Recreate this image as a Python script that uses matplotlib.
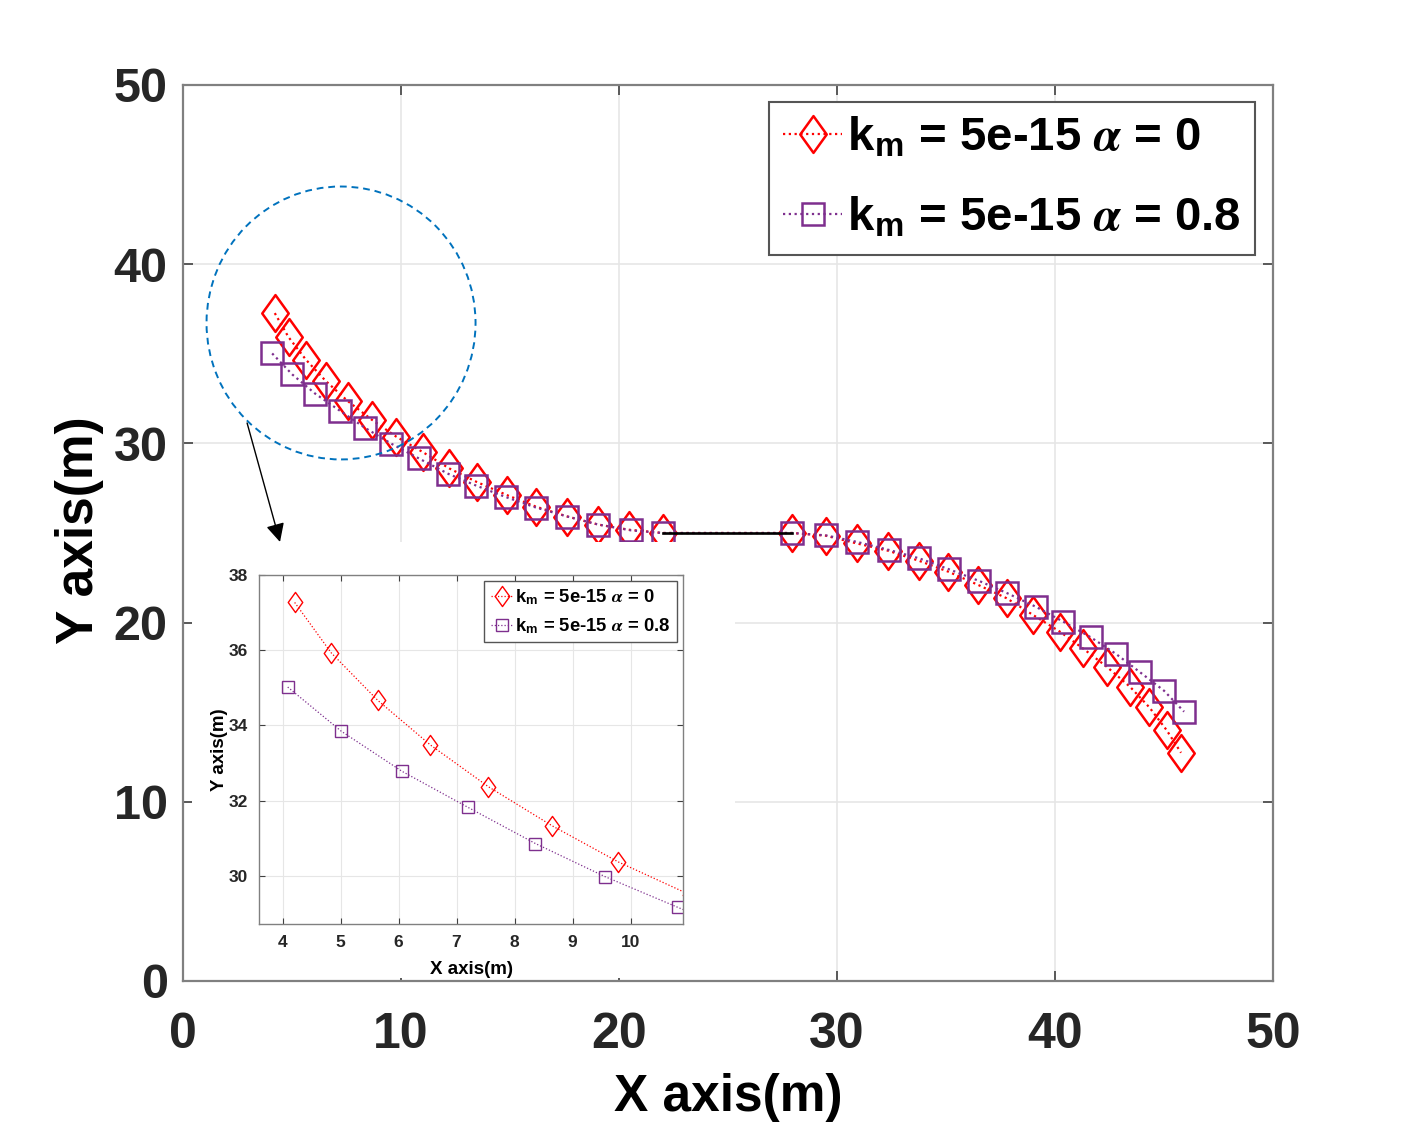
import numpy as np
import matplotlib
matplotlib.use('Agg')
import matplotlib.pyplot as plt
from matplotlib import font_manager as fm
from matplotlib.patches import Ellipse, Rectangle
from matplotlib.path import Path

names = {f.name for f in fm.fontManager.ttflist}
SANS = 'Liberation Sans' if 'Liberation Sans' in names else 'DejaVu Sans'

plt.rcParams['font.family'] = [SANS, 'DejaVu Sans']
plt.rcParams['font.weight'] = 'bold'
plt.rcParams['mathtext.fontset'] = 'stix'

# ---------------- data ----------------
x_alpha0 = [4.21, 4.84, 5.64, 6.55, 7.55, 8.65, 9.79, 11.02, 12.22, 13.47, 14.85,
            16.19, 17.63, 19.05, 20.47, 22.0,
            27.95, 29.48, 30.90, 32.35, 33.76, 35.11, 36.48, 37.78, 39.0, 40.23,
            41.27, 42.37, 43.44, 44.33, 45.12, 45.78]
y_alpha0 = [37.27, 35.93, 34.67, 33.48, 32.37, 31.33, 30.37, 29.50, 28.60, 27.85, 27.12,
            26.47, 25.92, 25.47, 25.18, 25.0,
            25.0, 24.85, 24.42, 24.01, 23.45, 22.84, 22.10, 21.36, 20.42, 19.49,
            18.57, 17.54, 16.42, 15.27, 14.0, 12.74]
x_alpha08 = [4.09, 5.01, 6.06, 7.20, 8.36, 9.56, 10.82, 12.17, 13.44, 14.82,
             16.19, 17.63, 19.05, 20.54, 22.0,
             27.95, 29.48, 30.93, 32.40, 33.76, 35.15, 36.53, 37.81, 39.11, 40.38,
             41.64, 42.80, 43.90, 45.0, 45.92]
y_alpha08 = [35.02, 33.85, 32.78, 31.82, 30.86, 29.98, 29.16, 28.30, 27.65, 27.0,
             26.42, 25.92, 25.47, 25.15, 25.0,
             25.0, 24.87, 24.50, 24.05, 23.59, 22.97, 22.32, 21.64, 20.89, 20.05,
             19.18, 18.25, 17.23, 16.2, 15.03]
link_x = [22.0, 27.95]
link_y = [25.0, 25.0]
labels = [r'k$_\mathregular{m}$ = 5e-15 $\alpha$ = 0',
          r'k$_\mathregular{m}$ = 5e-15 $\alpha$ = 0.8']
main_ticks = [0, 10, 20, 30, 40, 50]
inset_xticks = [4, 5, 6, 7, 8, 9, 10]
inset_yticks = [30, 32, 34, 36, 38]

RED = '#FF0000'
PURPLE = '#7E2F8E'
BLUE = '#0072BD'
SPINE = '#808080'
GRID = '#e6e6e6'
DOT = (0, (1, 1.6))

DIAMOND = Path([(0, 1), (0.72, 0), (0, -1), (-0.72, 0), (0, 1)], closed=True)

W, H = 1407, 1125
fig = plt.figure(figsize=(W / 100, H / 100), dpi=100)
fig.patch.set_facecolor('white')

def fx(px):
    return px / W

def fy(py):
    return 1 - py / H

ax = fig.add_axes([fx(183), fy(981), (1273 - 183) / W, (981 - 85) / H])
ax.plot(x_alpha0, y_alpha0, color=RED, ls=DOT, lw=1.6, marker=DIAMOND, ms=26.5,
        mfc='none', mec=RED, mew=1.8, label=labels[0], zorder=3)
ax.plot(x_alpha08, y_alpha08, color=PURPLE, ls=DOT, lw=1.6, marker='s', ms=15.5,
        mfc='none', mec=PURPLE, mew=1.8, label=labels[1], zorder=3)
ax.plot(link_x, link_y, color='black', lw=1.9, zorder=4)

ax.set_xlim(0, 50)
ax.set_ylim(0, 50)
ax.set_xticks(main_ticks)
ax.set_yticks(main_ticks)
ax.grid(True, color=GRID, lw=1.2)
ax.set_axisbelow(True)
for s in ax.spines.values():
    s.set_color(SPINE)
    s.set_linewidth(1.6)
ax.tick_params(direction='in', length=7, width=1.2, color='#404040',
               top=True, right=True)
ax.tick_params(axis='x', pad=22)
ax.tick_params(axis='y', pad=11)
for t in ax.get_xticklabels():
    t.set_fontsize(36)
    t.set_fontweight('bold')
    t.set_color('#262626')
for t in ax.get_yticklabels():
    t.set_fontsize(35)
    t.set_fontweight('bold')
    t.set_color('#262626')

ax.set_xlabel('X axis(m)', fontsize=37, fontweight='bold', va='center')
ax.xaxis.set_label_coords(0.5, -(1097 - 981) / 896)
ax.set_ylabel('Y axis(m)', fontsize=37, fontweight='bold', va='center')
ax.yaxis.set_label_coords((80 - 183) / 1090, (981 - 530) / 896)

leg = ax.legend(loc='upper right', bbox_to_anchor=(fx(1255), fy(102)),
                bbox_transform=fig.transFigure, borderaxespad=0,
                prop={'size': 34, 'weight': 'bold'}, handlelength=1.25,
                handletextpad=0.1, borderpad=0.3, labelspacing=0.75,
                fancybox=False, framealpha=1, edgecolor='#555555')
leg.get_frame().set_linewidth(1.5)

# zoom circle and arrow
ax.add_patch(Ellipse((7.25, 36.72), 12.34, 15.23, fill=False, ec=BLUE,
                     ls=(0, (3.5, 2.5)), lw=1.4, zorder=5))
ax.annotate('', xy=(4.45, 24.5), xytext=(2.94, 31.14),
            arrowprops=dict(arrowstyle='-|>', color='black', lw=1.0,
                            mutation_scale=28, shrinkA=0, shrinkB=0), zorder=6)

# white area behind inset
ax.add_patch(Rectangle((fx(192), fy(978)), (735 - 192) / W, (978 - 542) / H,
                       transform=fig.transFigure, facecolor='white',
                       edgecolor='none', zorder=10, clip_on=False))

# ---------------- inset ----------------
ins = fig.add_axes([fx(259.3), fy(924), (683.3 - 259.3) / W, (924 - 575) / H])
ins.set_zorder(5)
ins.plot(x_alpha0, y_alpha0, color=RED, ls=DOT, lw=0.9, marker=DIAMOND, ms=14.5,
         mfc='none', mec=RED, mew=1.0, label=labels[0])
ins.plot(x_alpha08, y_alpha08, color=PURPLE, ls=DOT, lw=0.9, marker='s', ms=8,
         mfc='none', mec=PURPLE, mew=1.0, label=labels[1])
ins.set_xlim(3.6, 10.91)
ins.set_ylim(28.72, 38)
ins.set_xticks(inset_xticks)
ins.set_yticks(inset_yticks)
ins.grid(True, color=GRID, lw=0.8)
ins.set_axisbelow(True)
for s in ins.spines.values():
    s.set_color(SPINE)
    s.set_linewidth(1.0)
ins.tick_params(direction='in', length=4, width=0.8, color='#404040',
                top=True, right=True, labelsize=12.5, labelcolor='#262626', pad=8)
for t in ins.get_xticklabels() + ins.get_yticklabels():
    t.set_fontweight('bold')
ins.set_xlabel('X axis(m)', fontsize=13.5, fontweight='bold', va='center')
ins.xaxis.set_label_coords(0.5, -(969 - 924) / 349)
ins.set_ylabel('Y axis(m)', fontsize=13.5, fontweight='bold', va='center')
ins.yaxis.set_label_coords((219 - 259.3) / 424, (924 - 750) / 349)
ileg = ins.legend(loc='upper right', borderaxespad=0.35,
                  prop={'size': 13.3, 'weight': 'bold'}, handlelength=1.2,
                  handletextpad=0.12, borderpad=0.35, labelspacing=0.5,
                  fancybox=False, framealpha=1, edgecolor='#555555')
ileg.get_frame().set_linewidth(1.0)

fig.savefig('out.png', dpi=100, facecolor='white')
